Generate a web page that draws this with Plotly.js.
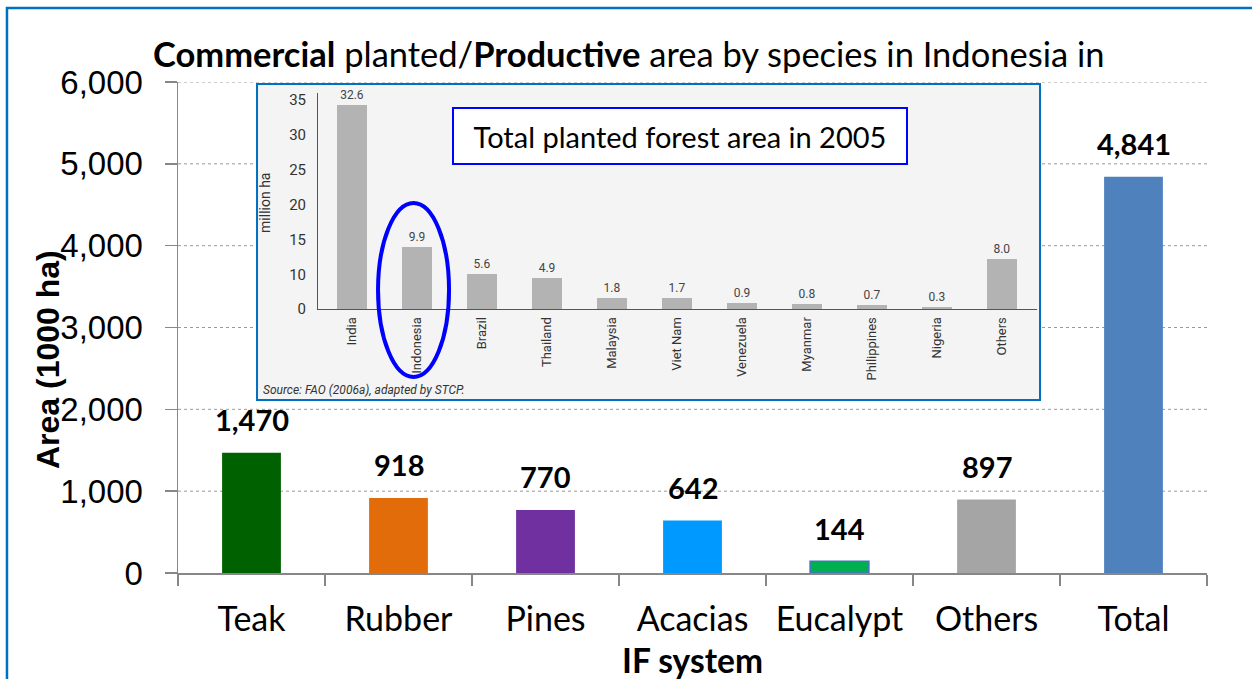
<!DOCTYPE html>
<html>
<head>
<meta charset="utf-8">
<script src="https://cdn.plot.ly/plotly-3.0.1.min.js"></script>
<style>
  html, body { margin: 0; padding: 0; background: #ffffff; }
  #chart { width: 1252px; height: 679px; }
</style>
</head>
<body>
<div id="chart"></div>
<script>
// ---- Main chart data ----
const species = ['Teak', 'Rubber', 'Pines', 'Acacias', 'Eucalypt', 'Others', 'Total'];
const areaValues = [1470, 918, 770, 642, 144, 897, 4841];
const barColors = ['#006100', '#E36C0A', '#7030A0', '#0099FF', '#00B050', '#A5A5A5', '#4F81BD'];
const yTickValues = [0, 1000, 2000, 3000, 4000, 5000, 6000];

// ---- Inset chart data (Total planted forest area in 2005, million ha) ----
const countries = ['India', 'Indonesia', 'Brazil', 'Thailand', 'Malaysia', 'Viet Nam', 'Venezuela', 'Myanmar', 'Philippines', 'Nigeria', 'Others'];
const plantedArea = [32.6, 9.9, 5.6, 4.9, 1.8, 1.7, 0.9, 0.8, 0.7, 0.3, 8.0];
const insetTickText = ['0', '10', '15', '20', '25', '30', '35'];
const insetTickVals = [0, 5.5, 11.1, 16.6, 22.2, 27.8, 33.4];

const LATO = 'Lato, Calibri, Carlito, sans-serif';
const ARIAL = 'Liberation Sans, Arial, sans-serif';
const NARROW = 'Liberation Sans Narrow, Roboto, sans-serif';

const mainTrace = {
  type: 'bar',
  x: species,
  y: areaValues,
  width: 0.4,
  marker: {
    color: barColors,
    line: {
      color: species.map(s => s === 'Eucalypt' ? '#4472C4' : 'rgba(0,0,0,0)'),
      width: species.map(s => s === 'Eucalypt' ? 1.5 : 0)
    }
  },
  hoverinfo: 'x+y',
  xaxis: 'x', yaxis: 'y'
};

const insetTrace = {
  type: 'bar',
  x: countries,
  y: plantedArea,
  width: 0.46,
  marker: { color: '#B3B3B3' },
  text: plantedArea.map(v => v.toFixed(1)),
  textposition: 'outside',
  cliponaxis: false,
  textfont: { family: NARROW, size: 12, color: '#444444' },
  xaxis: 'x2', yaxis: 'y2'
};

const shapes = [];
// outer frame
shapes.push({
  type: 'rect', xref: 'paper', yref: 'paper', layer: 'below',
  x0: -0.1662, x1: 1.2, y0: -0.4, y1: 1.1507,
  line: { color: '#0070C0', width: 2.5 }, fillcolor: 'rgba(0,0,0,0)'
});
// dotted gridlines of the main chart
yTickValues.filter(v => v > 0).forEach(v => {
  shapes.push({
    type: 'line', xref: 'paper', yref: 'y', layer: 'below',
    x0: 0, x1: 1, y0: v, y1: v,
    line: { color: '#9A9A9A', width: 1, dash: 'dot' }
  });
});
// inset background panel
shapes.push({
  type: 'rect', xref: 'paper', yref: 'paper', layer: 'below',
  x0: 0.0768, x1: 0.8377, y0: 0.3523, y1: 0.9959,
  line: { color: '#0070C0', width: 2 }, fillcolor: '#F4F4F4'
});
// ellipse around Indonesia
shapes.push({
  type: 'circle', xref: 'paper', yref: 'paper', layer: 'above',
  x0: 0.1944, x1: 0.2634, y0: 0.3992, y1: 0.7536,
  line: { color: '#0000FF', width: 4 }
});

const annotations = [];
// data labels for main bars
species.forEach((s, i) => {
  annotations.push({
    x: s, y: areaValues[i], xref: 'x', yref: 'y',
    text: '<b>' + areaValues[i].toLocaleString('en-US') + '</b>',
    showarrow: false, yanchor: 'middle', yshift: 33,
    font: { family: LATO, size: 29, color: '#000000' }
  });
});
// axis titles
annotations.push({
  xref: 'paper', yref: 'paper', x: -0.1263, y: 0.4338,
  text: '<b>Area (1000 ha)</b>', textangle: -90, showarrow: false,
  xanchor: 'center', yanchor: 'middle',
  font: { family: ARIAL, size: 32, color: '#000000' }
});
annotations.push({
  xref: 'paper', yref: 'paper', x: 0.5, y: -0.1772,
  text: '<b>IF system</b>', showarrow: false,
  xanchor: 'center', yanchor: 'middle',
  font: { family: LATO, size: 33.5, color: '#000000' }
});
// inset texts
annotations.push({
  xref: 'paper', yref: 'paper', x: 0.4879, y: 0.890,
  text: 'Total planted forest area in 2005', showarrow: false,
  xanchor: 'center', yanchor: 'middle',
  width: 452, height: 54, borderpad: 0,
  bgcolor: '#FFFFFF', bordercolor: '#0000FF', borderwidth: 2,
  font: { family: LATO, size: 29, color: '#000000' }
});
annotations.push({
  xref: 'paper', yref: 'paper', x: 0.0845, y: 0.7536,
  text: 'million ha', textangle: -90, showarrow: false,
  xanchor: 'center', yanchor: 'middle',
  font: { family: NARROW, size: 14, color: '#333333' }
});
annotations.push({
  xref: 'paper', yref: 'paper', x: 0.0807, y: 0.3727,
  text: '<i>Source: FAO (2006a), adapted by STCP.</i>', showarrow: false,
  xanchor: 'left', yanchor: 'middle',
  font: { family: NARROW, size: 12, color: '#333333' }
});

const layout = {
  width: 1252, height: 679,
  margin: { l: 178, r: 45, t: 82, b: 106, pad: 0 },
  paper_bgcolor: '#FFFFFF',
  plot_bgcolor: 'rgba(0,0,0,0)',
  showlegend: false,
  bargap: 0,
  title: {
    text: '<b>Commercial</b> planted/<b>Productive</b> area by species in Indonesia in',
    xref: 'container', yref: 'container', x: 0.1222, y: 0.919,
    xanchor: 'left', yanchor: 'middle',
    font: { family: LATO, size: 34.5, color: '#000000' }
  },
  xaxis: {
    type: 'category',
    domain: [0, 1],
    range: [-0.5, 6.5],
    showline: true, linecolor: '#878787', linewidth: 1.5,
    ticks: 'outside', tickson: 'boundaries', ticklen: 11, tickwidth: 1.5, tickcolor: '#878787',
    showgrid: false, zeroline: false,
    tickfont: { family: LATO, size: 34, color: '#000000' },
    ticklabelstandoff: 16,
    fixedrange: true
  },
  yaxis: {
    domain: [0, 1],
    range: [0, 6000],
    tickvals: yTickValues,
    tickformat: ',d',
    showline: true, linecolor: '#878787', linewidth: 1.5,
    ticks: 'outside', ticklen: 12, tickwidth: 1.5, tickcolor: '#878787',
    showgrid: false, zeroline: false,
    tickfont: { family: ARIAL, size: 33, color: '#000000' },
    ticklabelstandoff: 15,
    fixedrange: true
  },
  xaxis2: {
    type: 'category',
    anchor: 'y2',
    domain: [0.1361, 0.8348],
    range: [-0.523, 10.54],
    showline: true, linecolor: '#555555', linewidth: 1,
    ticks: '', showgrid: false, zeroline: false,
    tickangle: -90,
    tickfont: { family: NARROW, size: 13, color: '#333333' },
    ticklabelstandoff: 2,
    fixedrange: true
  },
  yaxis2: {
    anchor: 'x2',
    domain: [0.5377, 0.9776],
    range: [0, 34.56],
    tickvals: insetTickVals,
    ticktext: insetTickText,
    showline: true, linecolor: '#555555', linewidth: 1,
    ticks: '', showgrid: false, zeroline: false,
    tickfont: { family: NARROW, size: 15, color: '#333333' },
    ticklabelstandoff: 8,
    fixedrange: true
  },
  shapes: shapes,
  annotations: annotations
};

Plotly.newPlot('chart', [mainTrace, insetTrace], layout, { displayModeBar: false, staticPlot: true });
</script>
</body>
</html>
